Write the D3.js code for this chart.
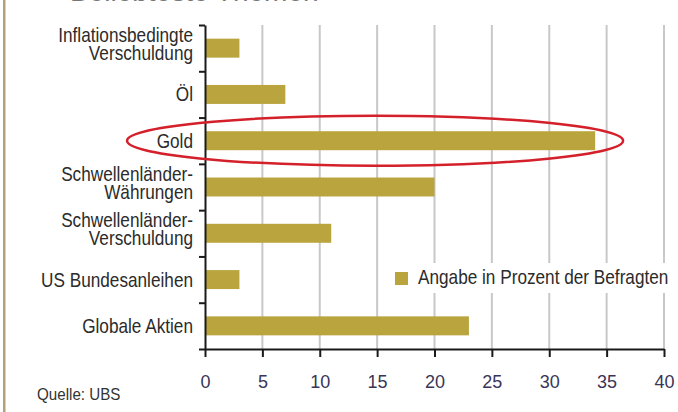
<!DOCTYPE html>
<html>
<head>
  <meta charset="utf-8">
  <script src="https://cdnjs.cloudflare.com/ajax/libs/d3/7.8.5/d3.min.js"></script>
  <style>
    body { margin: 0; background: #fff; }
    svg { display: block; font-family: "Liberation Sans", Arial, sans-serif; }
  </style>
</head>
<body>
  <svg width="678" height="412"></svg>

  <script>
    // data
    var categories = ["Inflationsbedingte\nVerschuldung", "Öl", "Gold", "Schwellenländer-\nWährungen",
      "Schwellenländer-\nVerschuldung", "US Bundesanleihen", "Globale Aktien"];
    var values = [3, 7, 34, 20, 11, 3, 23];
    var xTicks = [0, 5, 10, 15, 20, 25, 30, 35, 40];
    var legendLabel = "Angabe in Prozent der Befragten";
    var sourceLabel = "Quelle: UBS";
    var highlighted = "Gold";

    var svg = d3.select("svg");
    var barColor = "#b9a43d";
    var narrow = 0.86; // the original type is a condensed face

    var x = d3.scaleLinear().domain([0, 40]).range([205, 664]);
    var y = d3.scaleBand().domain(categories).range([25, 349])
      .paddingInner(0.59).paddingOuter(0.295);
    // band boundaries for the category ticks
    var yEdges = d3.scaleLinear().domain([0, categories.length]).range([25, 349]);

    // left frame line
    svg.append("rect").attr("x", 3).attr("y", 0).attr("width", 2.5).attr("height", 412)
      .style("fill", "#b5a177");

    // heading, almost entirely cut off at the top edge
    svg.append("text").attr("x", 70).attr("y", 0.5)
      .style("font-size", "28px").style("fill", "#777")
      .text("Beliebteste Themen");

    // gridlines
    svg.append("g").selectAll("line")
      .data(xTicks.filter(d => d > 0))
      .enter().append("line")
      .attr("x1", d => x(d)).attr("x2", d => x(d))
      .attr("y1", 25).attr("y2", 349)
      .style("stroke", "#c8c8c8").style("stroke-width", 2);

    // bars
    svg.append("g").selectAll("rect")
      .data(values)
      .enter().append("rect")
      .attr("x", x(0))
      .attr("y", (d, i) => y(categories[i]))
      .attr("width", d => x(d) - x(0))
      .attr("height", y.bandwidth())
      .style("fill", barColor);

    // x axis
    var xAxis = svg.append("g").attr("transform", "translate(0,349)")
      .call(d3.axisBottom(x).tickValues(xTicks).tickSize(8).tickPadding(18).tickSizeOuter(0));
    xAxis.select(".domain").style("stroke", "#1a1a1a").style("stroke-width", 2);
    xAxis.selectAll(".tick line").style("stroke", "#1a1a1a").style("stroke-width", 2);
    xAxis.selectAll("text").style("font-size", "18px").style("fill", "#3a3558")
      .style("font-family", "'Liberation Sans', sans-serif");

    // y axis (ticks between categories)
    var yAxis = svg.append("g").attr("transform", "translate(205,0)")
      .call(d3.axisLeft(yEdges).ticks(categories.length).tickSize(6).tickFormat("").tickSizeOuter(0));
    yAxis.select(".domain").style("stroke", "#1a1a1a").style("stroke-width", 2);
    yAxis.selectAll(".tick line").style("stroke", "#1a1a1a").style("stroke-width", 2);

    // category labels
    svg.append("g").selectAll("g")
      .data(categories)
      .enter().append("g")
      .attr("transform", c => "translate(193," + (y(c) + y.bandwidth() / 2 - (c.indexOf("\n") > 0 ? 4 : 0)) + ") scale(" + narrow + ",1)")
      .each(function (c) {
        var lines = c.split("\n");
        var t = d3.select(this).append("text")
          .attr("text-anchor", "end")
          .style("font-size", "20px").style("fill", "#2b2b2b");
        lines.forEach(function (line, i) {
          t.append("tspan").attr("x", 0)
            .attr("y", 7 + (i - (lines.length - 1) / 2) * 18)
            .text(line);
        });
      });

    // legend with white background
    svg.append("rect").attr("x", 388).attr("y", 263).attr("width", 284).attr("height", 30)
      .style("fill", "#fff");
    svg.append("rect").attr("x", 395).attr("y", 272).attr("width", 13).attr("height", 13)
      .style("fill", barColor);
    svg.append("g").attr("transform", "translate(418,284) scale(" + narrow + ",1)")
      .append("text")
      .style("font-size", "20px").style("fill", "#2b2b2b")
      .text(legendLabel);

    // source
    svg.append("g").attr("transform", "translate(37,400) scale(0.92,1)")
      .append("text")
      .style("font-size", "16.5px").style("fill", "#333")
      .text(sourceLabel);

    // red ellipse around the highlighted bar
    svg.append("ellipse")
      .attr("cx", (x(0) + x(34)) / 2 - 25)
      .attr("cy", y(highlighted) + y.bandwidth() / 2)
      .attr("rx", 248).attr("ry", 25)
      .style("fill", "none").style("stroke", "#d4202a").style("stroke-width", 2.5);
  </script>
</body>
</html>
